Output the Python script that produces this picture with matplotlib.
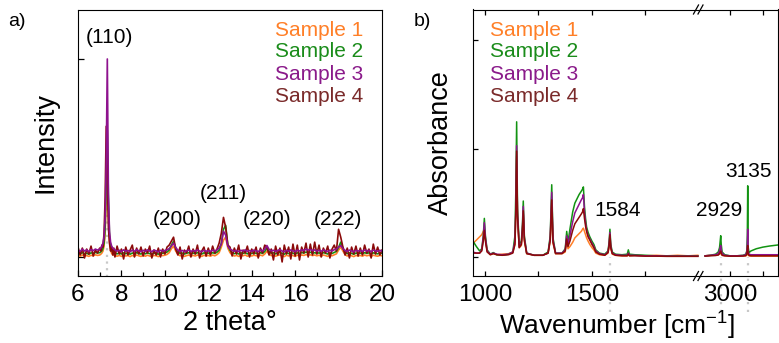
import matplotlib
matplotlib.use("Agg")
import matplotlib.pyplot as plt
import numpy as np
from matplotlib.ticker import FixedLocator

plt.rcParams['font.family'] = ['Liberation Sans', 'DejaVu Sans']
plt.rcParams['mathtext.default'] = 'regular'

# ---- data -------------------------------------------------------------
labels = ["Sample 1", "Sample 2", "Sample 3", "Sample 4"]
colors = ["#FF7F27", "#129312", "#8E128E", "#8B0A0A"]
text_colors = ["#FF7F27", "#1A8C1A", "#8A1A8A", "#7A2A2A"]

# XRD, 2 theta grid (finer around the (110) reflection)
two_theta = np.concatenate([np.linspace(6.0, 6.9, 10),
                            np.linspace(7.0, 7.65, 14),
                            np.linspace(7.7, 20.0, 124)])

xrd_s1 = [0.008, 0.004, 0.010, 0.005, 0.007, 0.003, 0.009, 0.006, 0.011, 0.008,
          0.010, 0.014, 0.020, 0.030, 0.055, 0.120, 0.300, 0.450, 0.220, 0.080, 0.035, 0.018, 0.012, 0.009,
          0.007, 0.004, 0.008,
          0.003, 0.009, 0.005, 0.007, 0.002, 0.008, 0.004, 0.010, 0.006, 0.003,
          0.008, 0.004, 0.009, 0.005, 0.003, 0.008, 0.006, 0.002, 0.009, 0.007,
          0.009, 0.013, 0.022, 0.042, 0.055, 0.030, 0.014, 0.006, 0.008, 0.003,
          0.007, 0.010, 0.004, 0.008, 0.005, 0.010, 0.006, 0.003, 0.009, 0.005,
          0.008, 0.004, 0.010, 0.006, 0.012, 0.022, 0.050, 0.085, 0.100, 0.045,
          0.022, 0.010, 0.005, 0.008, 0.003, 0.009, 0.006, 0.010, 0.004, 0.008,
          0.005, 0.009, 0.007, 0.003, 0.010, 0.006, 0.015, 0.030, 0.015, 0.007,
          0.009, 0.004, 0.008, 0.011, 0.006, 0.002, 0.009, 0.005, 0.010, 0.007,
          0.003, 0.009, 0.006, 0.010, 0.008, 0.012, 0.009, 0.011, 0.007, 0.010,
          0.006, 0.009, 0.004, 0.010, 0.007, 0.003, 0.009, 0.006, 0.011, 0.016,
          0.035, 0.050, 0.030, 0.012, 0.005, 0.009, 0.006, 0.002, 0.008, 0.005,
          0.008, 0.004, 0.010, 0.006, 0.009, 0.003, 0.009, 0.006, 0.004, 0.008,
          0.006]
xrd_s2 = [0.020, 0.015, 0.022, 0.017, 0.019, 0.014, 0.021, 0.018, 0.023, 0.020,
          0.022, 0.026, 0.032, 0.045, 0.070, 0.150, 0.380, 0.640, 0.300, 0.110, 0.055, 0.035, 0.026, 0.022,
          0.019, 0.016, 0.020,
          0.015, 0.021, 0.017, 0.019, 0.014, 0.020, 0.016, 0.022, 0.018, 0.015,
          0.020, 0.016, 0.021, 0.017, 0.015, 0.020, 0.018, 0.014, 0.021, 0.019,
          0.021, 0.025, 0.035, 0.060, 0.080, 0.045, 0.026, 0.018, 0.020, 0.015,
          0.019, 0.022, 0.016, 0.020, 0.017, 0.022, 0.018, 0.015, 0.021, 0.017,
          0.020, 0.016, 0.022, 0.018, 0.024, 0.034, 0.070, 0.140, 0.160, 0.060,
          0.034, 0.022, 0.017, 0.020, 0.015, 0.021, 0.018, 0.022, 0.016, 0.020,
          0.017, 0.021, 0.019, 0.015, 0.022, 0.018, 0.028, 0.045, 0.027, 0.019,
          0.021, 0.016, 0.020, 0.023, 0.018, 0.014, 0.021, 0.017, 0.022, 0.019,
          0.015, 0.021, 0.018, 0.022, 0.020, 0.025, 0.021, 0.024, 0.019, 0.022,
          0.018, 0.021, 0.016, 0.022, 0.019, 0.015, 0.021, 0.018, 0.023, 0.028,
          0.048, 0.075, 0.045, 0.024, 0.017, 0.021, 0.018, 0.014, 0.020, 0.017,
          0.020, 0.016, 0.022, 0.018, 0.021, 0.015, 0.021, 0.018, 0.016, 0.020,
          0.018]
xrd_s3 = [0.035, 0.028, 0.040, 0.030, 0.036, 0.027, 0.038, 0.032, 0.040, 0.035,
          0.040, 0.045, 0.055, 0.070, 0.100, 0.200, 0.480, 1.000, 0.320, 0.130, 0.075, 0.055, 0.045, 0.040,
          0.036, 0.030, 0.034,
          0.028, 0.036, 0.030, 0.033, 0.026, 0.035, 0.029, 0.037, 0.031, 0.027,
          0.034, 0.028, 0.036, 0.030, 0.027, 0.035, 0.031, 0.026, 0.034, 0.030,
          0.033, 0.036, 0.042, 0.055, 0.070, 0.048, 0.034, 0.029, 0.033, 0.027,
          0.031, 0.035, 0.028, 0.033, 0.029, 0.036, 0.030, 0.027, 0.034, 0.029,
          0.032, 0.028, 0.035, 0.030, 0.036, 0.045, 0.065, 0.130, 0.110, 0.055,
          0.040, 0.034, 0.029, 0.033, 0.027, 0.034, 0.030, 0.036, 0.028, 0.033,
          0.029, 0.035, 0.031, 0.027, 0.036, 0.030, 0.040, 0.058, 0.038, 0.031,
          0.034, 0.028, 0.033, 0.037, 0.030, 0.026, 0.034, 0.029, 0.036, 0.031,
          0.027, 0.035, 0.030, 0.036, 0.033, 0.040, 0.035, 0.038, 0.032, 0.036,
          0.030, 0.034, 0.029, 0.036, 0.031, 0.027, 0.035, 0.030, 0.037, 0.040,
          0.050, 0.058, 0.042, 0.033, 0.029, 0.035, 0.031, 0.026, 0.034, 0.030,
          0.033, 0.028, 0.036, 0.030, 0.034, 0.027, 0.035, 0.031, 0.029, 0.034,
          0.030]
xrd_s4 = [0.050, 0.010, 0.045, -0.005, 0.040, 0.015, 0.055, 0.005, 0.035, 0.020,
          0.045, 0.030, 0.060, 0.050, 0.120, 0.300, 0.660, 0.400, 0.150, 0.070, 0.030, 0.050, 0.010, 0.045,
          0.000, 0.055, 0.015,
          0.040, -0.010, 0.050, 0.010, 0.035, 0.060, 0.000, 0.045, 0.015, 0.050,
          0.005, 0.040, 0.020, 0.055, -0.005, 0.035, 0.010, 0.045, 0.000, 0.040,
          0.015, 0.050, 0.060, 0.080, 0.100, 0.040, 0.010, 0.050, -0.010, 0.035,
          0.020, 0.055, 0.000, 0.040, 0.015, 0.060, -0.005, 0.030, 0.050, 0.005,
          0.045, 0.010, 0.055, 0.020, 0.040, 0.070, 0.120, 0.200, 0.150, 0.060,
          0.050, 0.005, 0.045, 0.015, 0.060, -0.010, 0.035, 0.020, 0.055, 0.000,
          0.040, 0.015, 0.050, -0.005, 0.045, 0.020, 0.060, 0.050, 0.010, 0.040,
          -0.015, 0.055, 0.010, 0.045, -0.025, 0.060, 0.015, 0.050, -0.010, 0.065,
          0.005, 0.060, -0.015, 0.050, 0.020, 0.070, 0.000, 0.065, 0.010, 0.075,
          0.015, 0.060, 0.000, 0.045, 0.020, 0.055, -0.005, 0.040, 0.060, 0.030,
          0.140, 0.100, 0.050, 0.010, 0.045, -0.005, 0.050, 0.015, 0.055, 0.005,
          0.045, 0.010, 0.060, 0.020, 0.040, -0.005, 0.065, 0.015, 0.050, 0.010,
          0.035]

xrd_peaks = ["(110)", "(200)", "(211)", "(220)", "(222)"]
xrd_peak_pos = [7.46, 10.55, 12.67, 14.7, 17.97]
xrd_peak_y = [1.11, 0.19, 0.32, 0.19, 0.19]

# FTIR, low and high wavenumber ranges
wn_lo = [944, 960, 975, 985, 992, 997, 1002, 1010, 1025, 1039,
         1055, 1080, 1110, 1130, 1140, 1144, 1148, 1152, 1160, 1170,
         1175, 1179, 1184, 1195, 1230, 1270, 1295, 1305, 1312, 1318,
         1330, 1360, 1375, 1382, 1388, 1397, 1410, 1420, 1430, 1440,
         1450, 1456, 1460, 1465, 1470, 1475, 1482, 1490, 1500, 1509,
         1518, 1535, 1560, 1575, 1580, 1584, 1588, 1595, 1610, 1640,
         1665, 1670, 1675, 1700, 1750, 1800, 1850, 1900, 1950, 1995]
ir_lo_s1 = [0.13, 0.16, 0.19, 0.21, 0.24, 0.26, 0.17, 0.06, 0.025, 0.035,
            0.025, 0.03, 0.035, 0.05, 0.12, 0.38, 0.93, 0.36, 0.09, 0.11,
            0.23, 0.40, 0.15, 0.035, 0.02, 0.02, 0.04, 0.15, 0.45, 0.13,
            0.035, 0.035, 0.05, 0.15, 0.08, 0.10, 0.14, 0.18, 0.20, 0.22,
            0.24, 0.26, 0.27, 0.24, 0.21, 0.18, 0.15, 0.12, 0.09, 0.07,
            0.04, 0.025, 0.02, 0.04, 0.09, 0.17, 0.08, 0.03, 0.02, 0.015,
            0.015, 0.025, 0.015, 0.02, 0.015, 0.02, 0.015, 0.02, 0.015, 0.02]
ir_lo_s2 = [0.15, 0.10, 0.06, 0.08, 0.20, 0.36, 0.20, 0.07, 0.03, 0.045,
            0.025, 0.02, 0.03, 0.05, 0.20, 0.60, 1.25, 0.45, 0.12, 0.15,
            0.30, 0.52, 0.20, 0.04, 0.02, 0.02, 0.05, 0.20, 0.67, 0.18,
            0.04, 0.04, 0.08, 0.24, 0.14, 0.26, 0.42, 0.50, 0.54, 0.58,
            0.61, 0.63, 0.65, 0.47, 0.36, 0.28, 0.23, 0.19, 0.15, 0.12,
            0.07, 0.04, 0.03, 0.06, 0.14, 0.26, 0.12, 0.05, 0.03, 0.025,
            0.03, 0.07, 0.03, 0.025, 0.02, 0.015, 0.015, 0.015, 0.015, 0.015]
ir_lo_s3 = [0.05, 0.04, 0.04, 0.07, 0.18, 0.32, 0.18, 0.06, 0.03, 0.04,
            0.03, 0.025, 0.03, 0.05, 0.15, 0.45, 1.03, 0.40, 0.10, 0.13,
            0.27, 0.47, 0.18, 0.04, 0.02, 0.02, 0.04, 0.18, 0.60, 0.16,
            0.04, 0.04, 0.07, 0.20, 0.12, 0.20, 0.33, 0.41, 0.45, 0.49,
            0.53, 0.55, 0.58, 0.42, 0.32, 0.25, 0.20, 0.17, 0.13, 0.10,
            0.06, 0.035, 0.025, 0.05, 0.12, 0.23, 0.10, 0.04, 0.025, 0.02,
            0.02, 0.04, 0.02, 0.02, 0.015, 0.015, 0.012, 0.012, 0.012, 0.012]
ir_lo_s4 = [0.04, 0.04, 0.04, 0.06, 0.15, 0.25, 0.15, 0.05, 0.025, 0.035,
            0.025, 0.02, 0.025, 0.04, 0.12, 0.40, 0.98, 0.38, 0.09, 0.12,
            0.25, 0.43, 0.16, 0.035, 0.02, 0.02, 0.04, 0.16, 0.53, 0.14,
            0.035, 0.035, 0.06, 0.17, 0.10, 0.15, 0.25, 0.31, 0.34, 0.37,
            0.40, 0.42, 0.45, 0.36, 0.29, 0.24, 0.19, 0.16, 0.12, 0.09,
            0.05, 0.03, 0.02, 0.045, 0.11, 0.21, 0.09, 0.035, 0.02, 0.015,
            0.015, 0.03, 0.015, 0.015, 0.012, 0.012, 0.01, 0.01, 0.01, 0.01]

wn_hi = [2810, 2850, 2890, 2910, 2920, 2925, 2929, 2933, 2940, 2960,
         3000, 3050, 3100, 3120, 3128, 3132, 3135, 3138, 3145, 3160,
         3200, 3250, 3300, 3366]
ir_hi_s1 = [0.015, 0.02, 0.02, 0.025, 0.03, 0.04, 0.045, 0.03, 0.02, 0.015,
            0.012, 0.012, 0.013, 0.015, 0.02, 0.04, 0.06, 0.025, 0.015, 0.012,
            0.012, 0.012, 0.012, 0.012]
ir_hi_s2 = [0.015, 0.02, 0.03, 0.05, 0.09, 0.15, 0.20, 0.12, 0.05, 0.025,
            0.015, 0.015, 0.02, 0.03, 0.06, 0.20, 0.66, 0.10, 0.045, 0.06,
            0.08, 0.095, 0.105, 0.115]
ir_hi_s3 = [0.015, 0.02, 0.025, 0.035, 0.06, 0.09, 0.11, 0.07, 0.035, 0.02,
            0.015, 0.015, 0.018, 0.025, 0.05, 0.12, 0.26, 0.06, 0.03, 0.025,
            0.025, 0.025, 0.025, 0.025]
ir_hi_s4 = [0.012, 0.015, 0.018, 0.022, 0.035, 0.05, 0.06, 0.04, 0.02, 0.015,
            0.012, 0.012, 0.013, 0.016, 0.03, 0.07, 0.11, 0.035, 0.018, 0.015,
            0.015, 0.015, 0.015, 0.015]

ir_marks = [1584, 2929, 3135]

# ---- figure -----------------------------------------------------------
W, H = 779, 343
fig = plt.figure(figsize=(W / 100, H / 100), dpi=100)


def box(l, t, r, b):
    return [l / W, 1 - b / H, (r - l) / W, (b - t) / H]


axa = fig.add_axes(box(78, 9.5, 382, 276))
axb1 = fig.add_axes(box(473, 9.5, 700, 276))
axb2 = fig.add_axes(box(700, 9.5, 778, 276), sharey=axb1)

# panel a
xrd = [xrd_s1, xrd_s2, xrd_s4, xrd_s3]
xrd_col = [colors[0], colors[1], colors[3], colors[2]]
for y, c in zip(xrd, xrd_col):
    axa.plot(two_theta, y, color=c, lw=1.2)
axa.plot([7.33, 7.33], [-0.1, 0.35], color="#c8c8c8", lw=1.6, ls=(0, (1, 2)), zorder=0)

axa.set_xlim(6, 20)
axa.set_ylim(-0.096, 1.25)
axa.set_xticks(range(6, 21, 2))
axa.xaxis.set_minor_locator(FixedLocator(range(7, 20, 2)))
axa.set_yticks([0, 1])
axa.set_yticklabels([])
axa.tick_params(which="both", direction="in", top=False, right=False,
                labelsize=17.5, pad=6, width=0.9)
axa.tick_params(which="major", length=4)
axa.tick_params(which="minor", length=3)
axa.set_xlabel("2 theta°", fontsize=19.5, labelpad=3)
axa.set_ylabel("Intensity", fontsize=19.5, labelpad=8)

for t, x, y in zip(xrd_peaks, xrd_peak_pos, xrd_peak_y):
    axa.text(x, y, t, fontsize=15, ha="center", va="center")

leg_y = [0.923, 0.841, 0.756, 0.672]
for lab, c, y in zip(labels, text_colors, leg_y):
    axa.text(0.937, y, lab, transform=axa.transAxes, color=c,
             fontsize=15, ha="right", va="center")

# panel b
ir_lo = [ir_lo_s1, ir_lo_s2, ir_lo_s3, ir_lo_s4]
ir_hi = [ir_hi_s1, ir_hi_s2, ir_hi_s3, ir_hi_s4]
for ylo, yhi, c in zip(ir_lo, ir_hi, colors):
    axb1.plot(wn_lo, ylo, color=c, lw=1.1)
    axb2.plot(wn_hi, yhi, color=c, lw=1.1)

for m in ir_marks:
    ax = axb1 if m < 2000 else axb2
    ax.plot([m, m], [-0.5, 0.0], color="#c8c8c8", lw=1.6, ls=(0, (1, 2.5)),
            zorder=0, clip_on=False)

axb1.set_xlim(944, 2005)
axb2.set_xlim(2771, 3366)
axb1.set_ylim(-0.171, 2.285)

axb1.set_xticks([1000, 1500])
axb1.xaxis.set_minor_locator(FixedLocator([1250, 1750]))
axb2.set_xticks([3000])
axb2.xaxis.set_minor_locator(FixedLocator([3250]))
axb1.set_yticks([0, 1, 2])
axb1.set_yticklabels([])
for ax in (axb1, axb2):
    ax.tick_params(which="both", direction="in", top=True, labelsize=17.5,
                   pad=6, width=0.9, length=3.5)
axb1.tick_params(which="both", right=False)
axb2.tick_params(which="both", left=False, right=False, labelleft=False)
axb1.spines["right"].set_visible(False)
axb2.spines["left"].set_visible(False)
axb1.set_ylabel("Absorbance", fontsize=19.5, labelpad=8)
fig.text(617 / W, 1 - 326 / H, r"Wavenumber [cm$^{-1}$]", fontsize=19,
         ha="center", va="center")

for lab, c, y in zip(labels, text_colors, leg_y):
    axb1.text(0.075, y, lab, transform=axb1.transAxes, color=c,
              fontsize=15, ha="left", va="center")

fig.text(617.5 / W, 1 - 210 / H, "1584", fontsize=15, ha="center", va="center")
fig.text(719.5 / W, 1 - 210 / H, "2929", fontsize=15, ha="center", va="center")
fig.text(748.5 / W, 1 - 171.5 / H, "3135", fontsize=15, ha="center", va="center")

# break marks on the shared x axis
for yb in (9.5, 276):
    for dx in (-3.5, 1.0):
        fig.add_artist(plt.Line2D([(697 + dx) / W, (702 + dx) / W],
                                  [1 - (yb + 4.5) / H, 1 - (yb - 4.5) / H],
                                  color="black", lw=0.9))

fig.text(17 / W, 1 - 21.5 / H, "a)", fontsize=14, ha="center", va="center")
fig.text(422 / W, 1 - 21.5 / H, "b)", fontsize=14, ha="center", va="center")

fig.savefig("out.png", dpi=100)
